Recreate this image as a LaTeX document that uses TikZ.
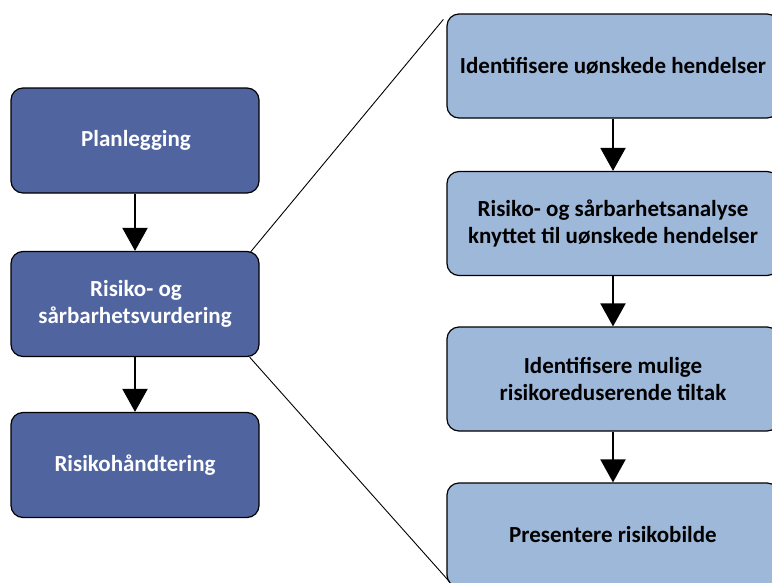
\documentclass[tikz,border=0pt]{standalone}
\usepackage{fontspec}
\setmainfont{Carlito}
\usetikzlibrary{arrows.meta,calc}
\definecolor{darkbox}{RGB}{80,100,160}
\definecolor{lightbox}{RGB}{158,184,218}
\tikzset{
  leftbox/.style={draw=black, line width=1.2pt, fill=darkbox, rounded corners=12pt,
    minimum width=248pt, minimum height=105pt, text=white, align=center,
    font=\fontsize{23}{27}\selectfont\bfseries, inner sep=0pt},
  rightbox/.style={draw=black, line width=1.2pt, fill=lightbox, rounded corners=12pt,
    minimum width=332pt, minimum height=104pt, text=black, align=center,
    font=\fontsize{23}{27}\selectfont\bfseries, inner sep=0pt},
  flowarrow/.style={line width=2pt, -{Triangle[width=25pt,length=23pt]}},
  zoomline/.style={line width=0.9pt}
}
\begin{document}
\begin{tikzpicture}[x=1pt,y=-1pt]
\fill[white] (0,0) rectangle (772,582);
\clip (0,0) rectangle (772,582);
\node[leftbox] (plan) at (135,140.5) {\hspace*{2pt}Planlegging};
\node[leftbox] (risk) at (135,304) {\hspace*{2pt}Risiko- og\\sårbarhetsvurdering};
\node[leftbox] (hand) at (135,465) {Risikohåndtering};
\node[rightbox] (r1) at (613,66) {Identifisere uønskede hendelser};
\node[rightbox] (r2) at (613,223.5) {Risiko- og sårbarhetsanalyse\\knyttet til uønskede hendelser};
\node[rightbox] (r3) at (613,379) {Identifisere mulige\\risikoreduserende tiltak};
\node[rightbox] (r4) at (613,535) {Presentere risikobilde};
\draw[flowarrow] (plan.south) -- (risk.north);
\draw[flowarrow] (risk.south) -- (hand.north);
\draw[flowarrow] (r1.south) -- (r2.north);
\draw[flowarrow] (r2.south) -- (r3.north);
\draw[flowarrow] (r3.south) -- (r4.north);
\coordinate (a1) at ($(risk.north east)+(-9,1)$);
\coordinate (b1) at ($(r1.north west)+(-3,6)$);
\coordinate (a2) at ($(risk.south east)+(-10,0)$);
\coordinate (b2) at ($(r4.south west)+(3,-6)$);
\draw[zoomline] (a1) -- (b1);
\draw[zoomline] (a2) -- (b2);
\end{tikzpicture}
\end{document}
